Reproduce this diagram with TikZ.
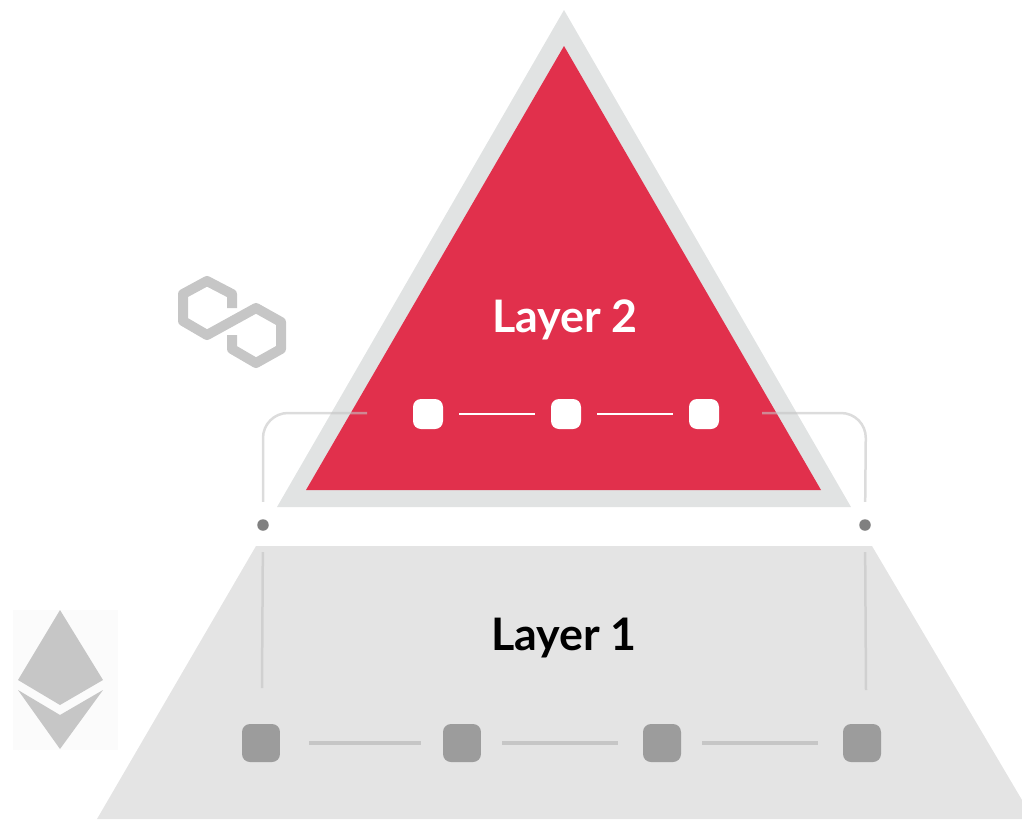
\documentclass[tikz,border=0pt]{standalone}
\usepackage{fontspec}
\setmainfont{Lato}
\definecolor{redL}{HTML}{E1304C}
\definecolor{greyL}{HTML}{E4E4E4}
\definecolor{greyT}{HTML}{E1E3E3}
\definecolor{greyB}{HTML}{9C9C9C}
\definecolor{greyI}{HTML}{C6C6C6}
\tikzset{
	whitebox/.style={fill=white,rounded corners=.16cm,minimum size=.6cm,inner sep=0},
	greybox/.style={fill=greyB,rounded corners=.16cm,minimum size=.76cm,inner sep=0},
	joint/.style={circle,fill=gray,minimum size=.23cm,inner sep=0},
	link/.style={line width=.08cm,greyI},
	bracket/.style={line width=.05cm,greyB!60,opacity=.6,rounded corners=.5cm},
	layertext/.style={font=\bfseries\fontsize{25.5}{30}\selectfont}
}
\begin{document}
\begin{tikzpicture}[x=.02cm,y=-.02cm,line join=round]
		\useasboundingbox (0,0) rectangle (1022,819);
		%==layer shapes
		\fill[greyT] (564,10)--(851,507)--(277,507)--cycle;
		\fill[redL] (564,46)--(821,490)--(306,490)--cycle;
		\fill[greyL] (256,546)--(872,546)--(1022,800)--(1022,819)--(97,819)--cycle;
		%==logos
		\fill[black!1.5] (13,610) rectangle (118,750);
		\fill[greyI] (60,610)--(103,680)--(60,705)--(18,680)--cycle;
		\fill[greyI] (18,690)--(60,715)--(103,690)--(60,749)--cycle;
		\draw[greyI,line width=.2cm,line cap=butt] (232,308)--(232,294)--(207,281)--(183,294)--(183,321)--(207,335)--(256,308)--(281,322)--(281,349)--(256,363)--(232,349)--(232,335);
		%==nodes
		\foreach \x/\g in {1/428,2/566,3/704}\node[whitebox] (W\x) at (\g,414) {};
		\foreach \x/\g in {1/261,2/462,3/662,4/862}\node[greybox] (G\x) at (\g,743) {};
		\node[joint] (JL) at (263,525) {};
		\node[joint] (JR) at (865,525) {};
		\node[layertext,text=white] (T2) at (565,320) {Layer 2};
		\node[layertext,text=black] (T1) at (564,638) {Layer 1};
		%==connectors
		\draw[white,line width=.05cm,shorten <=.32cm,shorten >=.32cm] (W1)--(W2);
		\draw[white,line width=.05cm,shorten <=.32cm,shorten >=.32cm] (W2)--(W3);
		\draw[link,shorten <=.58cm,shorten >=.44cm] (G1)--(G2);
		\draw[link,shorten <=.42cm,shorten >=.5cm] (G2)--(G3);
		\draw[link,shorten <=.42cm,shorten >=.5cm] (G3)--(G4);
		\coordinate (BL) at (367,413);
		\coordinate (BR) at (762,413);
		\coordinate (DL) at (262,688);
		\coordinate (DR) at (866,690);
		\draw[bracket,shorten <=.34cm] (JL)--(263,413)--(BL);
		\draw[bracket,shorten <=.34cm] (JR)--(866,413)--(BR);
		\draw[bracket,shorten <=.42cm] (JL)--(DL);
		\draw[bracket,shorten <=.42cm] (JR)--(DR);
		\end{tikzpicture}
\end{document}
